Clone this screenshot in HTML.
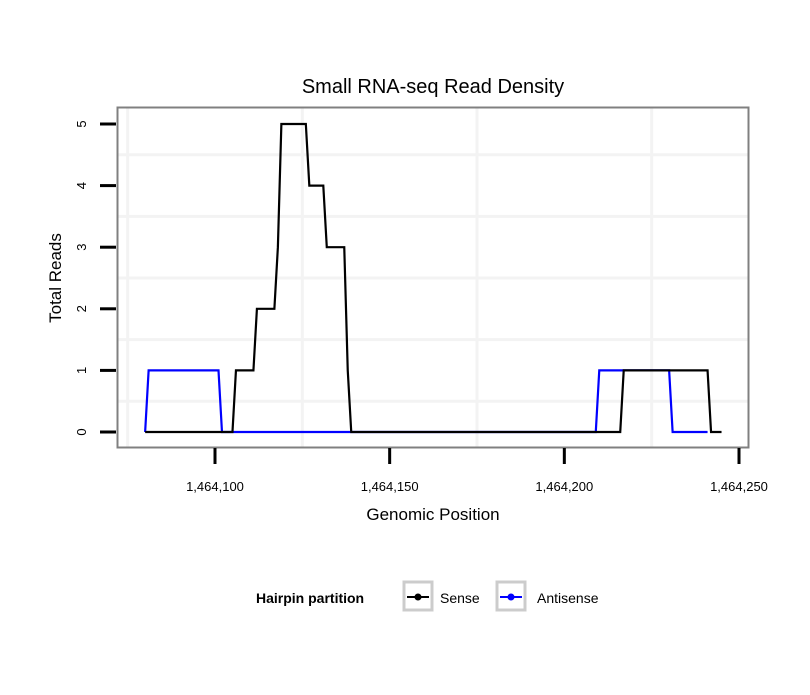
<!DOCTYPE html>
<html><head><meta charset="utf-8"><style>
body{margin:0;background:#fff;font-family:"Liberation Sans",sans-serif}
</style></head><body>
<svg id="chart" width="810" height="690" xmlns="http://www.w3.org/2000/svg" font-family="Liberation Sans, sans-serif">
<text x="433" y="93" text-anchor="middle" font-size="20">Small RNA-seq Read Density</text>
<g id="grid"></g>
<g id="series"></g>
<rect x="117.5" y="107.5" width="631" height="340" fill="none" stroke="#808080" stroke-width="2"/>
<g id="axes"></g>
<text x="433" y="520" text-anchor="middle" font-size="17">Genomic Position</text>
<text transform="translate(61,278) rotate(-90)" text-anchor="middle" font-size="17">Total Reads</text>
<g>
<text x="256" y="603" font-size="14" font-weight="bold">Hairpin partition</text>
<g>
<rect x="404" y="582" width="28" height="28" fill="#fff" stroke="#ccc" stroke-width="3"/>
<line x1="407" y1="597" x2="429" y2="597" stroke="#000" stroke-width="2"/><circle cx="418" cy="597" r="3.5" fill="#000"/>
<text x="440" y="603" font-size="14">Sense</text></g>
<g>
<rect x="497" y="582" width="28" height="28" fill="#fff" stroke="#ccc" stroke-width="3"/>
<line x1="500" y1="597" x2="522" y2="597" stroke="#00f" stroke-width="2"/><circle cx="511" cy="597" r="3.5" fill="#00f"/>
<text x="537" y="603" font-size="14">Antisense</text></g>
</g>
</svg>
<script>
const xTicks=[1464100,1464150,1464200,1464250];
const xTickLabels=["1,464,100","1,464,150","1,464,200","1,464,250"];
const yTicks=[0,1,2,3,4,5];
const sensePos=[1464080,1464105,1464106,1464111,1464112,1464117,1464118,1464119,1464126,1464127,1464131,1464132,1464137,1464138,1464139,1464216,1464217,1464241,1464242,1464245];
const senseVal=[0,0,1,1,2,2,3,5,5,4,4,3,3,1,0,0,1,1,0,0];
const antiPos=[1464080,1464081,1464101,1464102,1464139,1464209,1464210,1464230,1464231,1464241];
const antiVal=[0,1,1,0,0,0,1,1,0,0];
const NS="http://www.w3.org/2000/svg";
function X(v){return 215+(v-1464100)*(739-215)/150;}
function Y(v){return 432-v*(432-124)/5;}
function mk(t,a,p){const e=document.createElementNS(NS,t);for(const k in a)e.setAttribute(k,a[k]);p.appendChild(e);return e;}
const grid=document.getElementById('grid'),axes=document.getElementById('axes'),ser=document.getElementById('series');
[1464075,1464125,1464175,1464225].forEach(v=>{const l=mk('line',{x1:X(v),x2:X(v),y1:108,y2:447,stroke:'#f3f3f3','stroke-width':3},grid);});
[0.5,1.5,2.5,3.5,4.5].forEach(v=>{const l=mk('line',{x1:118,x2:748,y1:Y(v),y2:Y(v),stroke:'#f3f3f3','stroke-width':3},grid);});
xTicks.forEach((v,i)=>{const l=mk('line',{x1:X(v),x2:X(v),y1:448,y2:464,stroke:'#000','stroke-width':3},axes);
const t=mk('text',{x:X(v),y:491,'text-anchor':'middle','font-size':13},axes);t.textContent=xTickLabels[i];});
yTicks.forEach(v=>{const l=mk('line',{x1:100,x2:116,y1:Y(v),y2:Y(v),stroke:'#000','stroke-width':3},axes);
const t=mk('text',{transform:`translate(86,${Y(v)}) rotate(-90)`,'text-anchor':'middle','font-size':13},axes);t.textContent=v;});
function line(P,V,c,n){const d=P.map((p,i)=>(i?'L':'M')+X(p)+','+Y(V[i])).join('');const e=mk('path',{d:d,fill:'none',stroke:c,'stroke-width':2.2,'stroke-linejoin':'miter'},ser);}
line(antiPos,antiVal,'#0000ff','antisense-line');
line(sensePos,senseVal,'#000000','sense-line');
</script>
</body></html>
